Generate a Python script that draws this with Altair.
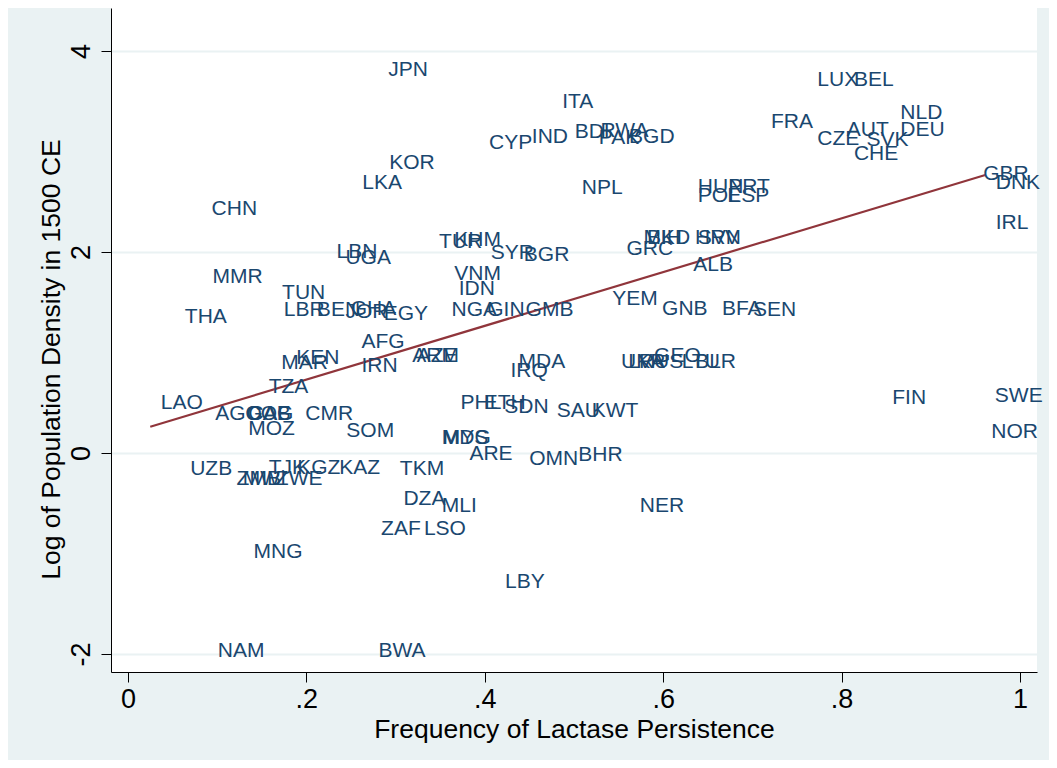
import json
import altair as alt
import pandas as pd

codes = ["JPN", "KOR", "LKA", "CHN", "ITA", "CYP", "IND", "BDI", "RWA", "PAK", "BGD", "NPL",
         "HUN", "PRT", "POL", "ESP", "LUX", "BEL", "FRA", "NLD", "DEU", "AUT", "CZE", "SVK",
         "CHE", "GBR", "DNK", "IRL", "TUR", "KHM", "LBN", "UGA", "SYR", "BGR", "MKD", "BIH",
         "HRV", "SVN", "GRC", "ALB", "MMR", "VNM", "IDN", "TUN", "LBR", "BEN", "JOR", "GHA",
         "EGY", "THA", "NGA", "GIN", "GMB", "YEM", "GNB", "BFA", "SEN", "AFG", "KEN", "MAR",
         "IRN", "ARM", "AZE", "MDA", "IRQ", "UKR", "LVA", "RUS", "GEO", "LTU", "BLR", "TZA",
         "LAO", "AGO", "GAB", "COG", "CAF", "CMR", "MOZ", "SOM", "PHL", "ETH", "SDN", "SAU",
         "KWT", "FIN", "SWE", "NOR", "MDG", "MYS", "ARE", "UZB", "TJK", "KGZ", "KAZ", "ZMB",
         "MWI", "ZWE", "TKM", "OMN", "BHR", "DZA", "MLI", "NER", "ZAF", "LSO", "MNG", "LBY",
         "NAM", "BWA"]

lactase = [0.280, 0.281, 0.251, 0.082, 0.475, 0.393, 0.441, 0.489, 0.518, 0.516, 0.550, 0.497,
           0.627, 0.661, 0.627, 0.660, 0.761, 0.802, 0.709, 0.854, 0.854, 0.794, 0.761, 0.816,
           0.802, 0.947, 0.961, 0.961, 0.337, 0.354, 0.222, 0.232, 0.395, 0.432, 0.566, 0.570,
           0.624, 0.627, 0.547, 0.622, 0.083, 0.354, 0.359, 0.161, 0.163, 0.200, 0.232, 0.238,
           0.275, 0.052, 0.351, 0.391, 0.434, 0.531, 0.587, 0.654, 0.689, 0.250, 0.177, 0.160,
           0.250, 0.307, 0.312, 0.426, 0.417, 0.541, 0.549, 0.561, 0.578, 0.609, 0.624, 0.146,
           0.025, 0.086, 0.121, 0.120, 0.123, 0.187, 0.123, 0.233, 0.361, 0.387, 0.410, 0.469,
           0.508, 0.845, 0.960, 0.956, 0.340, 0.341, 0.371, 0.058, 0.146, 0.178, 0.225, 0.110,
           0.117, 0.154, 0.293, 0.438, 0.493, 0.297, 0.340, 0.562, 0.272, 0.320, 0.129, 0.411,
           0.089, 0.269]

logdens = [3.821, 2.896, 2.697, 2.438, 3.502, 3.095, 3.154, 3.204, 3.214, 3.144, 3.154, 2.647,
           2.657, 2.657, 2.567, 2.567, 3.721, 3.721, 3.303, 3.393, 3.224, 3.224, 3.134, 3.124,
           2.985, 2.786, 2.697, 2.299, 2.109, 2.129, 2.010, 1.950, 2.000, 1.980, 2.149, 2.149,
           2.149, 2.149, 2.040, 1.881, 1.761, 1.791, 1.642, 1.602, 1.433, 1.433, 1.413, 1.443,
           1.393, 1.363, 1.433, 1.433, 1.433, 1.542, 1.443, 1.443, 1.433, 1.114, 0.955, 0.905,
           0.876, 0.975, 0.975, 0.915, 0.826, 0.915, 0.915, 0.915, 0.975, 0.915, 0.915, 0.667,
           0.507, 0.398, 0.398, 0.398, 0.398, 0.398, 0.249, 0.229, 0.507, 0.507, 0.468, 0.428,
           0.428, 0.557, 0.577, 0.219, 0.159, 0.159, 0.000, -0.149, -0.139, -0.139, -0.139, -0.249,
           -0.249, -0.249, -0.149, -0.050, -0.010, -0.448, -0.517, -0.517, -0.746, -0.746, -0.975, -1.274,
           -1.960, -1.960]

fit_x = [0.025, 0.961]
fit_y = [0.262, 2.766]

x_ticks = [0, 0.2, 0.4, 0.6, 0.8, 1]
x_tick_labels = ["0", ".2", ".4", ".6", ".8", "1"]
y_ticks = [-2, 0, 2, 4]
y_tick_labels = ["-2", "0", "2", "4"]

df = pd.DataFrame({"code": codes, "lactase": lactase, "logdens": logdens})
fit = pd.DataFrame({"lactase": fit_x, "logdens": fit_y})

FONT = "Liberation Sans"
xscale = alt.Scale(domain=[-0.019, 1.019], nice=False, zero=False)
yscale = alt.Scale(domain=[-2.179, 4.428], nice=False, zero=False)

x_expr = json.dumps(x_tick_labels) + "[indexof(" + json.dumps(x_ticks) + ", datum.value)]"
y_expr = json.dumps(y_tick_labels) + "[indexof(" + json.dumps(y_ticks) + ", datum.value)]"

x_axis = alt.Axis(values=x_ticks, labelExpr=x_expr, grid=False, tickSize=10,
                  labelFontSize=27, labelFont=FONT, labelColor="#000000",
                  labelBaseline="alphabetic", labelPadding=25, labelFlush=False,
                  labelOverlap=False, domainColor="#000000", tickColor="#000000",
                  title="Frequency of Lactase Persistence", titleFont=FONT,
                  titleFontSize=26.5, titleFontWeight="normal", titleColor="#000000",
                  titleBaseline="alphabetic", titleX=463, titleY=65, titleAlign="center")

y_axis = alt.Axis(values=y_ticks, labelExpr=y_expr, grid=True, gridColor="#EAF2F3",
                  gridWidth=2, tickSize=10, labelFontSize=27, labelFont=FONT,
                  labelColor="#000000", labelAngle=270, labelAlign="center",
                  labelBaseline="alphabetic", labelPadding=12, labelFlush=False,
                  labelOverlap=False, domainColor="#000000", tickColor="#000000",
                  title="Log of Population Density in 1500 CE", titleFont=FONT,
                  titleFontSize=26.5, titleFontWeight="normal", titleColor="#000000",
                  titleAngle=270, titleBaseline="alphabetic", titleAlign="center",
                  titleX=-52, titleY=351)

labels = alt.Chart(df).mark_text(
    align="left", baseline="middle", dx=10.5, dy=1, fontSize=21, font=FONT,
    color="#1A476F"
).encode(
    x=alt.X("lactase:Q", scale=xscale, axis=x_axis),
    y=alt.Y("logdens:Q", scale=yscale, axis=y_axis),
    text="code:N",
)

line = alt.Chart(fit).mark_line(color="#90353B", strokeWidth=2.2).encode(
    x=alt.X("lactase:Q", scale=xscale),
    y=alt.Y("logdens:Q", scale=yscale),
)

chart = alt.layer(line, labels).properties(
    width=926, height=664,
    autosize=alt.AutoSizeParams(type="none"),
    padding={"left": 103, "top": 0, "right": 12, "bottom": 88},
    background="#EAF2F3",
).configure_view(fill="white", stroke=None)

chart.save("out.html", embed_options={"renderer": "svg", "actions": False})
